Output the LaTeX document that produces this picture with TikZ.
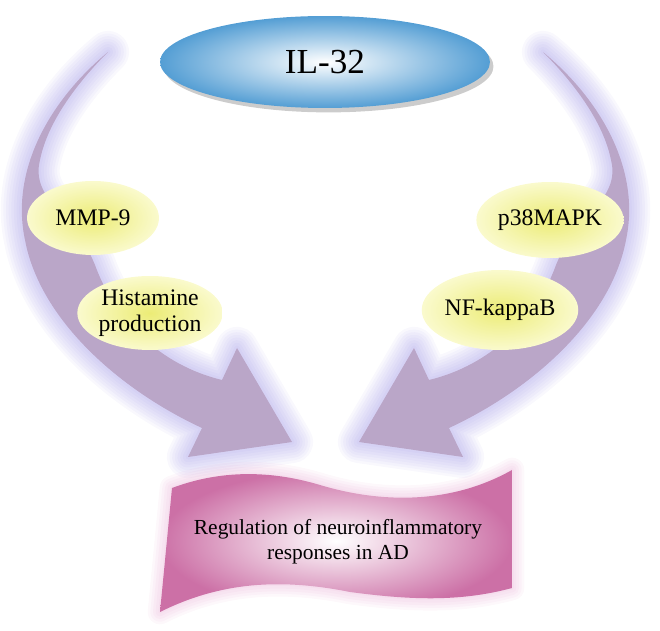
\documentclass[tikz,border=0pt]{standalone}
\usepackage{fontspec}
\setmainfont{Liberation Serif}
\usetikzlibrary{shapes.geometric,shadows}
\definecolor{arrowviolet}{RGB}{186,166,200}
\definecolor{glowviolet}{RGB}{140,130,225}
\definecolor{ilblue}{RGB}{84,158,212}
\definecolor{paleyellow}{RGB}{250,250,205}
\definecolor{deepyellow}{RGB}{236,236,118}
\definecolor{bannerpink}{RGB}{204,112,166}
\definecolor{glowpink}{RGB}{220,130,190}
\begin{document}
\begin{tikzpicture}[x=0.02cm,y=-0.02cm]

\tikzstyle{cytokine} = [ellipse,shading=radial,inner color=white,outer color=ilblue,minimum width=6.6cm,minimum height=1.84cm,inner sep=0,font={\fontsize{20}{22}\selectfont},drop shadow={shadow xshift=2pt,shadow yshift=-2.5pt,opacity=0.4}]
\tikzstyle{pathway} = [ellipse,shading=radial,inner color=deepyellow,outer color=paleyellow,inner sep=0,align=center,font={\fontsize{13.5}{15}\selectfont}]
\tikzstyle{arrow_glow} = [draw=glowviolet,opacity=0.055,line join=round]
\tikzstyle{banner_glow} = [draw=glowpink,opacity=0.06,line join=round]

\useasboundingbox (0,0) rectangle (660,631);

% curved arrows, right one mirrored
\foreach \sx/\dx in {1/0,-1/651}{
\begin{scope}[shift={(\dx,0)},xscale=\sx]
\foreach \w in {3,6,...,24}
  \draw [arrow_glow,line width=\w pt] (108,52) .. controls (50,100) and (10,170) .. (25,240) .. controls (40,320) and (120,390) .. (202,428) -- (188,457) -- (292,442) -- (237,348) -- (222,380) .. controls (160,365) and (115,320) .. (95,265) .. controls (75,215) and (30,200) .. (40,160) .. controls (48,120) and (80,80) .. (108,52) -- cycle;
\fill [arrowviolet] (108,52) .. controls (50,100) and (10,170) .. (25,240) .. controls (40,320) and (120,390) .. (202,428) -- (188,457) -- (292,442) -- (237,348) -- (222,380) .. controls (160,365) and (115,320) .. (95,265) .. controls (75,215) and (30,200) .. (40,160) .. controls (48,120) and (80,80) .. (108,52) -- cycle;
\end{scope}
}

% banner
\foreach \w in {2,5,...,14}
  \draw [banner_glow,line width=\w pt] (172,488) .. controls (220,470) and (270,470) .. (320,485) .. controls (380,503) and (450,505) .. (512,470) -- (512,588) .. controls (460,602) and (410,600) .. (350,592) .. controls (280,578) and (220,582) .. (160,612) -- cycle;
\shade [inner color=white,outer color=bannerpink] (172,488) .. controls (220,470) and (270,470) .. (320,485) .. controls (380,503) and (450,505) .. (512,470) -- (512,588) .. controls (460,602) and (410,600) .. (350,592) .. controls (280,578) and (220,582) .. (160,612) -- cycle;
\node [align=center,font={\fontsize{12.2}{14.2}\selectfont}] (banner) at (338,542) {Regulation of neuroinflammatory\\responses in AD};

\node [cytokine] (il32) at (325,62) {IL-32};

\node [pathway,minimum width=2.64cm,minimum height=1.48cm] (mmp9) at (93,218) {MMP-9};
\node [pathway,minimum width=2.76cm,minimum height=1.48cm] (histamine) at (150,313) {Histamine\\production};
\node [pathway,minimum width=2.28cm,minimum height=1.52cm] (p38) at (550,220) {p38MAPK};
\node [pathway,minimum width=2.6cm,minimum height=1.6cm] (nfkb) at (500,310) {NF-kappaB};
\end{tikzpicture}
\end{document}
